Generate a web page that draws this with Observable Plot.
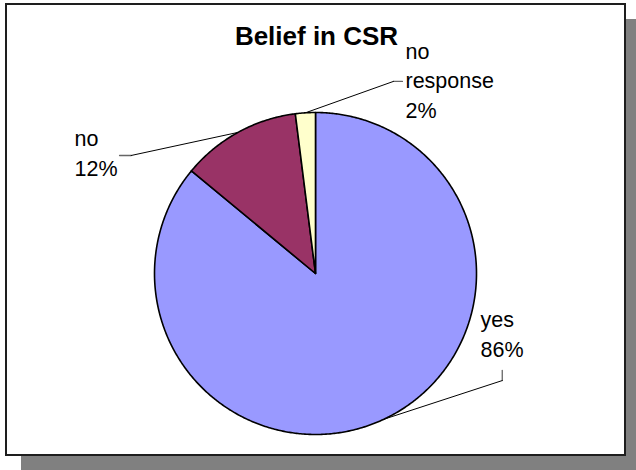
<!DOCTYPE html>
<html>
<head>
<meta charset="utf-8">
<script src="https://cdn.jsdelivr.net/npm/d3@7"></script>
<script src="https://cdn.jsdelivr.net/npm/@observablehq/plot@0.6"></script>
<style>
  html, body { margin: 0; padding: 0; background: #fff; }
  #wrap { position: relative; width: 636px; height: 470px; overflow: hidden; background: #fff; }
  #frame { position: absolute; left: 5px; top: 3px; width: 617px; height: 449px;
           border: 2px solid #1e1e1e; background: #fff; box-shadow: 16px 16px 0 #808080; }
  #chart { position: absolute; left: 0; top: 0; }
</style>
</head>
<body>
<div id="wrap"><div id="frame"></div><div id="chart"></div></div>
<script>
// ---- data ----
const title = "Belief in CSR";
const categories = ["yes", "no", "no response"];
const percents = [86, 12, 2];
const labelLines = [["yes", "86%"], ["no", "12%"], ["no", "response", "2%"]];
const colors = ["#9999FF", "#993366", "#FFFFCC"];

// ---- layout (pixels / pie-radius units) ----
const W = 636, H = 470, R = 161, cx = 315, cy = 273;
// label text start (x) and first baseline (y), in pie-radius units from center; line step in units
const labelAnchor = [[1.025, -0.334], [-1.497, 0.791], [0.559, 1.335]];
const lineStep = 0.184;
// leader elbow and stub end, in pie-radius units
const leaderElbow = [[1.160, -0.665], [-1.145, 0.733], [0.484, 1.193]];
const leaderStub = [[1.160, -0.602], [-1.217, 0.733], [0.540, 1.193]];

const arcs = d3.pie().sort(null).value(d => d)(percents);

// slice polygons
const slices = arcs.map((a, i) => {
  const pts = [{cat: categories[i], x: 0, y: 0}];
  const n = Math.max(2, Math.ceil((a.endAngle - a.startAngle) / (Math.PI / 360)));
  for (let k = 0; k <= n; k++) {
    const t = a.startAngle + (a.endAngle - a.startAngle) * k / n;
    pts.push({cat: categories[i], x: Math.sin(t), y: Math.cos(t)});
  }
  return pts;
});

// leader lines: diagonal from slice mid-angle edge to elbow, then short stub
const leaders = arcs.map((a, i) => {
  const m = (a.startAngle + a.endAngle) / 2;
  return [
    {x: Math.sin(m), y: Math.cos(m)},
    {x: leaderElbow[i][0], y: leaderElbow[i][1]}
  ];
});
const stubs = arcs.map((a, i) => [
  {x: leaderElbow[i][0], y: leaderElbow[i][1]},
  {x: leaderStub[i][0], y: leaderStub[i][1]}
]);

// label text rows
const labelRows = [];
labelLines.forEach((lines, i) => {
  lines.forEach((t, j) => {
    labelRows.push({text: t, x: labelAnchor[i][0], y: labelAnchor[i][1] - j * lineStep});
  });
});

const font = "'Liberation Sans', Arial, Helvetica, sans-serif";

const chart = Plot.plot({
  width: W,
  height: H,
  margin: 0,
  style: {background: "transparent", overflow: "visible"},
  x: {domain: [-cx / R, (W - cx) / R], range: [0, W], axis: null},
  y: {domain: [-(H - cy) / R, cy / R], range: [H, 0], axis: null},
  marks: [
    ...stubs.map(l => Plot.line(l, {x: "x", y: "y", stroke: "#666", strokeWidth: 1.3})),
    ...leaders.map(l => Plot.line(l, {x: "x", y: "y", stroke: "#000", strokeWidth: 1})),
    ...slices.map((s, i) => Plot.line(s, {x: "x", y: "y", fill: colors[i], stroke: "#000",
      strokeWidth: 1.6, curve: "linear-closed", strokeLinejoin: "round"})),
    Plot.text(labelRows, {x: "x", y: "y", text: "text", textAnchor: "start", lineAnchor: "bottom",
      fontSize: 21.5, fontFamily: font, fill: "#000"}),
    Plot.text([title], {frameAnchor: "top", dx: -2, dy: 44, text: d => d, lineAnchor: "bottom",
      fontSize: 26, fontWeight: "bold", fontFamily: font, fill: "#000"})
  ]
});
document.getElementById("chart").appendChild(chart);
</script>
</body>
</html>
